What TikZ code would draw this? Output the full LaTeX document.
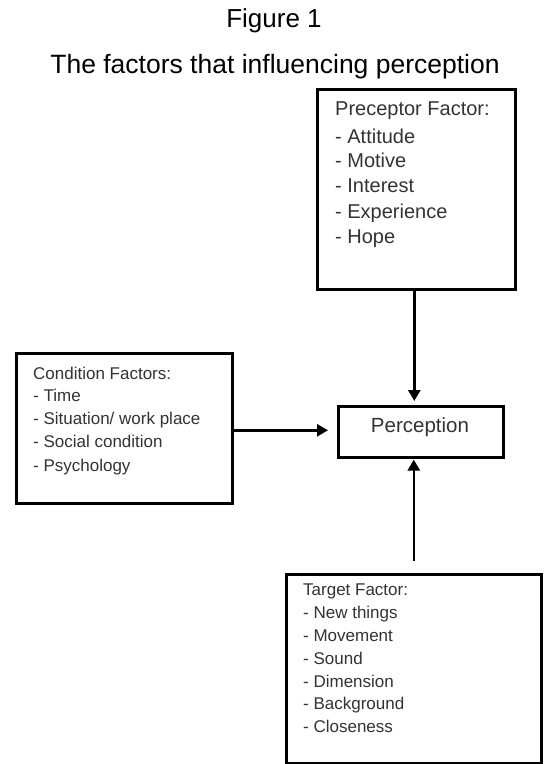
\documentclass[tikz,border=0pt]{standalone}
\usepackage{fontspec}
\setmainfont{Liberation Sans}
\usetikzlibrary{arrows.meta}
\begin{document}
\begin{tikzpicture}[x=1pt,y=-1pt,
  box/.style={draw=black,line width=2.6pt,inner sep=0pt,anchor=north west},
  txt/.style={anchor=base west,inner sep=0pt,text=black!80},
  conn/.style={line width=2.6pt,-{Triangle[length=11pt,width=12pt]}}]
\useasboundingbox[fill=white] (0,0) rectangle (544,764);
% titles
\node[anchor=base,inner sep=0pt,font=\fontsize{26}{30}\selectfont] (fig) at (274,27) {Figure 1};
\node[anchor=base,inner sep=0pt,font=\fontsize{26.5}{30}\selectfont] (ttl) at (275,73) {The factors that influencing perception};
% boxes
\node[box,minimum width=198pt,minimum height=200pt] (pf) at (316,88) {};
\node[box,minimum width=216pt,minimum height=150pt] (cf) at (15,352) {};
\node[box,minimum width=255pt,minimum height=189pt] (tf) at (285,573) {};
\node[box,minimum width=165pt,minimum height=51pt] (pc) at (337,405) {};
\node[anchor=base,inner sep=0pt,font=\fontsize{20.5}{24}\selectfont,text=black!80] (pcl) at (420,432) {Perception};
% preceptor factors
\begin{scope}[font=\fontsize{20}{24}\selectfont]
\node[txt] (p0) at (335,115) {Preceptor Factor:};
\node[txt] (p1) at (335,143) {- Attitude};
\node[txt] (p2) at (335,167) {- Motive};
\node[txt] (p3) at (335,192) {- Interest};
\node[txt] (p4) at (335,218) {- Experience};
\node[txt] (p5) at (335,243) {- Hope};
\end{scope}
% condition factors
\begin{scope}[font=\fontsize{17}{20}\selectfont]
\node[txt] (c0) at (33,379) {Condition Factors:};
\node[txt] (c1) at (33,401) {- Time};
\node[txt] (c2) at (33,424) {- Situation/ work place};
\node[txt] (c3) at (33,447) {- Social condition};
\node[txt] (c4) at (33,471) {- Psychology};
\end{scope}
% target factors
\begin{scope}[font=\fontsize{17}{20}\selectfont]
\node[txt] (t0) at (303,595) {Target Factor:};
\node[txt] (t1) at (303,618) {- New things};
\node[txt] (t2) at (303,641) {- Movement};
\node[txt] (t3) at (303,664) {- Sound};
\node[txt] (t4) at (303,687) {- Dimension};
\node[txt] (t5) at (303,709) {- Background};
\node[txt] (t6) at (303,732) {- Closeness};
\end{scope}
% connectors
\draw[conn,shorten >=4pt] ([xshift=-2pt]pf.south) -- ([xshift=-2pt]pf.south |- pc.north);
\draw[conn,shorten >=9pt] ([yshift=-2pt]cf.east) -- ([yshift=-2pt]cf.east -| pc.west);
\draw[conn,shorten <=12pt,shorten >=1pt] (tf.north) -- (tf.north |- pc.south);
\end{tikzpicture}
\end{document}
